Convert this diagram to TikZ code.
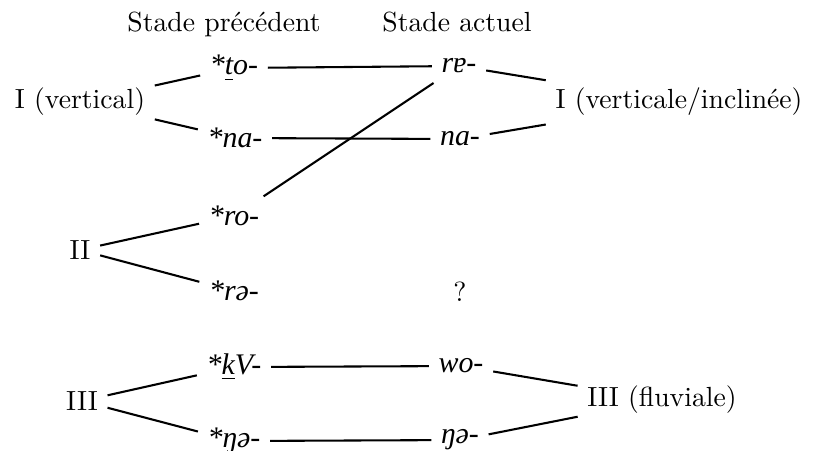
\documentclass[tikz,border=0pt]{standalone}
\usepackage{fontspec}
\newfontfamily\ipafont{Liberation Serif}[Scale=1.08]
\usepackage{tikz}
\tikzset{
	hdr/.style={anchor=base},
	grp/.style={},
	frm/.style={font=\ipafont\itshape},
	lnk/.style={line width=0.75pt},
}

\begin{document}
\begin{tikzpicture}[x=0.0127cm, y=-0.0127cm]
				\useasboundingbox (0,0) rectangle (815,450);
				% en-tetes
				\node[hdr] at (224,31) (prec) {Stade précédent};
				\node[hdr] at (457,31) (act) {Stade actuel};
				% groupes
				\node[grp] at (80,102) (gI) {I (vertical)};
				\node[grp] at (80,250) (gII) {II};
				\node[grp] at (82,401) (gIII) {III};
				\node[grp] at (679,102) (nI) {I (verticale/inclinée)};
				\node[grp] at (662,400) (nIII) {III (fluviale)};
				% formes anciennes
				\node[frm] at (234,68) (to) {*\underline{t}o-};
				\node[frm] at (235,138) (na0) {*na-};
				\node[frm] at (234,216) (ro) {*ro-};
				\node[frm] at (234,291) (rsch) {*rə-};
				\node[frm] at (234,367) (kV) {*\underline{k}V-};
				\node[frm] at (234,441) (ng0) {*ŋə-};
				% formes actuelles
				\node[frm] at (459,66) (re) {rɐ-};
				\node[frm] at (460,139) (na1) {na-};
				\node at (460,292) (q) {?};
				\node[frm] at (461,366) (wo) {wo-};
				\node[frm] at (460,440) (ng1) {ŋə-};
				% liens
				\draw[lnk] (gI) -- (to);
				\draw[lnk] (gI) -- (na0);
				\draw[lnk] (gII) -- (ro);
				\draw[lnk] (gII) -- (rsch);
				\draw[lnk] (gIII) -- (kV);
				\draw[lnk] (gIII) -- (ng0);
				\draw[lnk] (to) -- (re);
				\draw[lnk] (na0) -- (na1);
				\draw[lnk] (ro) -- (re);
				\draw[lnk] (kV) -- (wo);
				\draw[lnk] (ng0) -- (ng1);
				\draw[lnk] (re) -- (nI);
				\draw[lnk] (na1) -- (nI);
				\draw[lnk] (wo) -- (nIII);
				\draw[lnk] (ng1) -- (nIII);
			\end{tikzpicture}
\end{document}
